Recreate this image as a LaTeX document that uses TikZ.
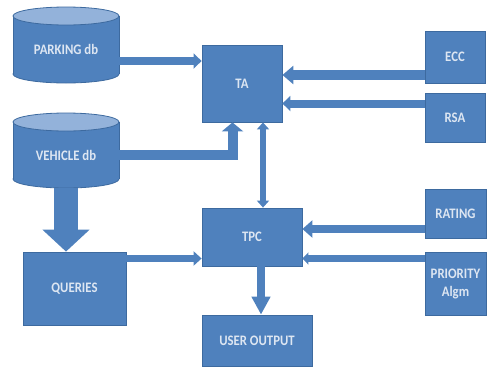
\documentclass[tikz,border=0pt]{standalone}
\usepackage{fontspec}
\setmainfont{Carlito}
\newfontfamily\lblfont[UprightFont={* Bold}, FakeStretch=0.88]{Carlito}
\usetikzlibrary{arrows.meta,calc}

\definecolor{boxblue}{HTML}{4F81BD}
\definecolor{edgeblue}{HTML}{3D6A9F}
\definecolor{capblue}{HTML}{93B2DA}
\definecolor{labeltxt}{HTML}{DDE6F2}

\tikzset{
  labelfont/.style={text=labeltxt, font=\lblfont\fontsize{14.5}{18}\selectfont},
  blk/.style={rectangle, fill=boxblue, draw=edgeblue, line width=0.8pt,
    inner sep=0pt, align=center, labelfont},
  dblabel/.style={rectangle, inner sep=0pt, align=center, labelfont},
  flow/.style n args={3}{draw=boxblue, line width=#1, line join=miter,
    -{Triangle[width=#2,length=#3]}},
  biflow/.style n args={3}{draw=boxblue, line width=#1,
    {Triangle[width=#2,length=#3]}-{Triangle[width=#2,length=#3]}},
}

% database drum: centre x, top ellipse centre y, bottom ellipse centre y
\newcommand\dbdrum[3]{%
  \fill[boxblue] (#1-53,#2) rectangle (#1+53,#3);
  \filldraw[fill=boxblue, draw=edgeblue, line width=0.8pt] (#1,#3) ellipse[x radius=53, y radius=9];
  \fill[boxblue] (#1-52.6,#2) rectangle (#1+52.6,#3);
  \draw[edgeblue, line width=0.8pt] (#1-53,#2) -- (#1-53,#3) (#1+53,#2) -- (#1+53,#3);
  \filldraw[fill=capblue, draw=edgeblue, line width=0.8pt] (#1,#2) ellipse[x radius=53, y radius=9];
}

\begin{document}
\begin{tikzpicture}[x=1pt, y=-1pt]
\useasboundingbox (0,0) rectangle (489,367);

% databases
\dbdrum{66}{16}{74}
\dbdrum{66}{122}{179}
\node[dblabel, minimum width=106pt, minimum height=67pt] (pk) at (66,49.5) {PARKING db};
\node[dblabel, minimum width=106pt, minimum height=66pt] (vh) at (66,155) {VEHICLE db};

% processing blocks
\node[blk, minimum width=80pt, minimum height=77pt]  (ta)  at (242,83.5)  {TA};
\node[blk, minimum width=100pt, minimum height=58pt] (tpc) at (252,237)   {TPC};
\node[blk, minimum width=103pt, minimum height=73pt] (qu)  at (74.5,288.5) {QUERIES};
\node[blk, minimum width=110pt, minimum height=51pt] (uo)  at (257,340.5) {USER OUTPUT};

% right-hand inputs
\node[blk, minimum width=60pt, minimum height=52pt] (ecc) at (455,57)    {ECC};
\node[blk, minimum width=60pt, minimum height=49pt] (rsa) at (455,117.5) {RSA};
\node[blk, minimum width=61pt, minimum height=49pt] (rat) at (455.5,213.5) {RATING};
\node[blk, minimum width=61pt, minimum height=63pt] (pri) at (455.5,283.5) {PRIORITY\\Algm};

% connectors
\draw[flow={8pt}{15pt}{8pt}] ([yshift=-11.5pt]pk.east) -- ([yshift=-11.5pt]pk.east -| ta.west);
\draw[flow={10pt}{21pt}{9pt}] (vh.east) -| ([xshift=-9.5pt]ta.south);
\draw[flow={24pt}{46pt}{22pt}] (vh.south) -- (vh.south |- qu.north);
\draw[flow={10pt}{18pt}{11pt}] ([yshift=-18pt]ecc.west) -- ([yshift=-18pt]ecc.west -| ta.east);
\draw[flow={8pt}{15pt}{8pt}] ([yshift=14pt]rsa.west) -- ([yshift=14pt]rsa.west -| ta.east);
\draw[biflow={6pt}{12pt}{7pt}] ([xshift=21pt]ta.south) -- ([xshift=21pt]ta.south |- tpc.north);
\draw[flow={7pt}{14pt}{8pt}] ([yshift=30pt]qu.east) -- ([yshift=30pt]qu.east -| tpc.west);
\draw[flow={8pt}{17pt}{10pt}] ([yshift=-15.5pt]rat.west) -- ([yshift=-15.5pt]rat.west -| tpc.east);
\draw[flow={7pt}{12pt}{6pt}] ([yshift=25pt]pri.west) -- ([yshift=25pt]pri.west -| tpc.east);
\draw[flow={8pt}{18pt}{18pt}] ([xshift=9pt]tpc.south) -- ([xshift=9pt]tpc.south |- uo.north);
\end{tikzpicture}
\end{document}
